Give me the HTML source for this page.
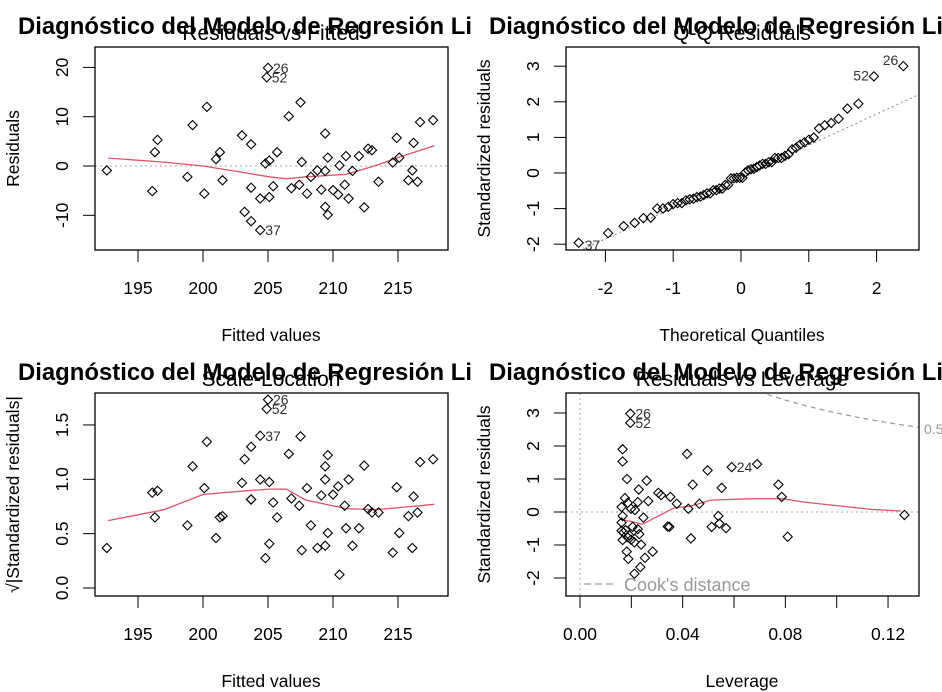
<!DOCTYPE html>
<html><head><meta charset="utf-8"><style>
html,body{margin:0;padding:0;background:#fff;}
svg{display:block;font-family:"Liberation Sans",Arial,sans-serif;}
</style></head><body>
<svg id="chart" width="942" height="692" viewBox="0 0 942 692" xmlns="http://www.w3.org/2000/svg"></svg>
<script>
// ---------- DATA ----------
const fittedValues = [192.6,196.1,196.3,196.5,198.8,199.2,200.1,200.3,201.0,201.3,201.5,203.0,203.2,203.7,203.7,203.7,204.4,204.4,204.8,204.9,205.0,205.1,205.1,205.4,205.7,206.6,206.8,207.4,207.5,207.6,208.0,208.3,208.8,209.1,209.4,209.4,209.4,209.6,209.6,210.0,210.4,210.5,210.9,211.0,211.2,211.5,212.0,212.4,212.7,213.0,213.5,214.6,214.9,215.1,215.8,216.1,216.2,216.5,216.7,217.7];
const residualValues = [-0.9,-5.1,2.8,5.3,-2.2,8.3,-5.6,12.0,1.4,2.8,-2.9,6.2,-9.3,4.4,-4.4,-11.2,-13.0,-6.6,0.5,18.0,19.9,1.1,-6.3,-4.1,2.8,10.1,-4.5,-3.8,12.9,0.8,-5.6,-2.2,-0.9,-4.8,6.6,-8.3,-1.0,1.7,-9.9,-4.9,-5.8,0.1,-3.8,2.0,-6.6,-1.0,2.0,-8.4,3.5,3.2,-3.2,0.7,5.7,1.7,-2.9,-0.9,4.7,-3.2,8.9,9.3];
const pointIds = {16:"37",19:"52",20:"26"};
const residualSigma = 6.63;
const lowessFitX = [192.7,197,200,202.8,205.1,206.4,207.9,211,213.3,215.1,217.8];
const lowessResY = [1.6,0.8,0,-1.2,-2.2,-2.6,-2.2,-1.7,0.1,1.8,4.1];
const lowessScaleY = [0.62,0.72,0.86,0.89,0.91,0.91,0.81,0.73,0.72,0.74,0.77];
const leverageValues = [0.0196,0.0196,0.0166,0.0166,0.0183,0.0175,0.0162,0.0186,0.0199,0.0214,0.0166,0.0162,0.0162,0.017,0.0166,0.0186,0.0199,0.0212,0.0182,0.0188,0.0212,0.0235,0.0253,0.0283,0.0238,0.0231,0.0225,0.0247,0.0225,0.0266,0.0229,0.026,0.0305,0.0316,0.0352,0.0377,0.0342,0.0348,0.0417,0.0422,0.0439,0.0432,0.0465,0.0497,0.0513,0.0539,0.0543,0.0552,0.0569,0.0591,0.069,0.0773,0.0786,0.0809,0.1264,0.0178,0.0192,0.0205];
const leverageStdRes = [2.98,2.70,1.90,1.53,1.0,0.42,0.15,0.28,0.10,0.06,-0.12,-0.32,-0.57,-0.62,-0.85,-0.77,-0.84,-0.92,-1.2,-1.42,-1.87,-1.67,-1.39,-1.2,-0.99,-0.67,-0.52,-0.17,0.30,0.33,0.68,0.95,0.58,0.51,0.46,0.25,-0.44,-0.45,1.76,0.10,0.83,-0.80,0.25,1.26,-0.45,-0.12,-0.35,0.73,-0.49,1.36,1.45,0.83,0.46,-0.75,-0.09,-0.55,-0.70,-0.45];
const leverageIds = {0:"26",1:"52",49:"24"};
const lowessLevX = [0.0162,0.0244,0.0368,0.0432,0.051,0.0653,0.079,0.0874,0.1134,0.125];
const lowessLevY = [-0.22,-0.37,0.13,0.18,0.36,0.40,0.40,0.30,0.08,0.03];
const fittedTicks = [195,200,205,210,215];
const residualTicks = [-10,0,10,20];
const qqXTicks = [-2,-1,0,1,2];
const qqYTicks = [-2,-1,0,1,2,3];
const scaleTicks = [0,0.5,1,1.5];
const scaleTickLabels = ["0.0","0.5","1.0","1.5"];
const levXTicks = [0,0.02,0.04,0.06,0.08,0.10,0.12];
const levXLabels = ["0.00","","0.04","","0.08","","0.12"];
const levYTicks = [-2,-1,0,1,2,3];
const mainTitle = "Diagnóstico del Modelo de Regresión Lineal";

// ---------- HELPERS ----------
const NS = "http://www.w3.org/2000/svg";
const svg = document.getElementById("chart");
function mk(tag, attrs, parent){const e=document.createElementNS(NS,tag);for(const k in attrs)e.setAttribute(k,attrs[k]);(parent||svg).appendChild(e);return e;}
const BX0=95,BX1=448,BY0=47,BY1=250;

const defs = mk("defs",{});
function qnorm(p){
  const a=[-39.69683028665376,220.9460984245205,-275.9285104469687,138.357751867269,-30.66479806614716,2.506628277459239];
  const b=[-54.47609879822406,161.5858368580409,-155.6989798598866,66.80131188771972,-13.28068155288572];
  const c=[-0.007784894002430293,-0.3223964580411365,-2.400758277161838,-2.549732539343734,4.374664141464968,2.938163982698783];
  const d=[0.007784695709041462,0.3224671290700398,2.445134137142996,3.754408661907416];
  const pl=0.02425;let q,r;
  if(p<pl){q=Math.sqrt(-2*Math.log(p));return (((((c[0]*q+c[1])*q+c[2])*q+c[3])*q+c[4])*q+c[5])/((((d[0]*q+d[1])*q+d[2])*q+d[3])*q+1);}
  if(p>1-pl){q=Math.sqrt(-2*Math.log(1-p));return -(((((c[0]*q+c[1])*q+c[2])*q+c[3])*q+c[4])*q+c[5])/((((d[0]*q+d[1])*q+d[2])*q+d[3])*q+1);}
  q=p-0.5;r=q*q;return (((((a[0]*r+a[1])*r+a[2])*r+a[3])*r+a[4])*r+a[5])*q/(((((b[0]*r+b[1])*r+b[2])*r+b[3])*r+b[4])*r+1);
}

function panel(idx, ox, oy, name, sub, xs, ys, xTicks, xLabels, yTicks, yLabels, xTitle, yTitle){
  const cp = mk("clipPath",{id:"pc"+idx},defs);
  mk("rect",{x:0,y:0,width:471,height:346},cp);
  const bc = mk("clipPath",{id:"bc"+idx},defs);
  mk("rect",{x:BX0,y:BY0,width:BX1-BX0,height:BY1-BY0},bc);
  const g = mk("g",{transform:`translate(${ox},${oy})`,"clip-path":`url(#pc${idx})`});
  
  
  const st = mk("text",{x:271,y:40,"font-size":"21","text-anchor":"middle",fill:"#000"},g);
  
  
  st.textContent = sub;
  const t = mk("text",{x:18,y:34,"font-size":"23.9","font-weight":"bold",fill:"#000"},g);
  
  
  t.textContent = mainTitle;
  const xa = mk("g",{},g);
  
  
  mk("line",{x1:xs(xTicks[0]),x2:xs(xTicks[xTicks.length-1]),y1:BY1,y2:BY1,stroke:"#000"},xa);
  xTicks.forEach((v,i)=>{
    const X=xs(v);
    mk("line",{x1:X,x2:X,y1:BY1,y2:BY1+12,stroke:"#000"},xa);
    if(xLabels[i]!==""){const tl=mk("text",{x:X,y:294,"font-size":"17.5","text-anchor":"middle",fill:"#000"},xa);
      
      
      tl.textContent=xLabels[i];}
  });
  const ya = mk("g",{},g);
  
  
  yTicks.forEach((v,i)=>{
    const Y=ys(v);
    mk("line",{x1:BX0-12,x2:BX0,y1:Y,y2:Y,stroke:"#000"},ya);
    const tl=mk("text",{x:0,y:0,"font-size":"17.5","text-anchor":"middle",fill:"#000",transform:`translate(68,${Y}) rotate(-90)`},ya);
    
    
    tl.textContent=yLabels[i];
  });
  const xt = mk("text",{x:271,y:341,"font-size":"17.5","text-anchor":"middle",fill:"#000"},g);
  
  
  xt.textContent = xTitle;
  const yt = mk("text",{x:0,y:0,"font-size":"17.5","text-anchor":"middle",fill:"#000",transform:`translate(19,${(BY0+BY1)/2}) rotate(-90)`},g);
  
  
  yt.textContent = yTitle;
  const plot = mk("g",{"clip-path":`url(#bc${idx})`},g);
  
  
  return {g, plot};
}
function box(g){const r=mk("rect",{x:BX0,y:BY0,width:BX1-BX0,height:BY1-BY0,fill:"none",stroke:"#000","stroke-width":"1.3"},g);
  
  }
function diamond(p,X,Y){const d=mk("path",{d:`M${X} ${Y-4.6}L${X+4.6} ${Y}L${X} ${Y+4.6}L${X-4.6} ${Y}Z`,fill:"none",stroke:"#000","stroke-width":"1.1"},p);
  
  }
function label(p,X,Y,txt,anchor){const t=mk("text",{x:X,y:Y,"font-size":"14",fill:"#333","text-anchor":anchor||"start"},p);
  
  
  t.textContent=txt;}
function polyline(p,xsArr,ysArr,xs,ys,name){const pts=xsArr.map((v,i)=>xs(v).toFixed(1)+","+ys(ysArr[i]).toFixed(1)).join(" ");
  const l=mk("polyline",{points:pts,fill:"none",stroke:"#DF536B","stroke-width":"1.3"},p);
  
  }
function hline(p,Y,x0,x1,dash,name){const l=mk("line",{x1:x0,x2:x1,y1:Y,y2:Y,stroke:"#aaa","stroke-dasharray":dash},p);
  
  }

const stdRes = residualValues.map(v=>v/residualSigma);

// ---------- PANEL 1 ----------
{
  const xs=v=>138+(v-195)*13.0, ys=v=>166-v*4.93;
  const {g,plot}=panel(1,0,0,"residuals-vs-fitted-panel","Residuals vs Fitted",xs,ys,fittedTicks,fittedTicks.map(String),residualTicks,residualTicks.map(String),"Fitted values","Residuals");
  hline(plot,ys(0),BX0,BX1,"2,3","zero-reference-line");
  polyline(plot,lowessFitX,lowessResY,xs,ys,"lowess-smooth-line");
  fittedValues.forEach((v,i)=>{diamond(plot,xs(v),ys(residualValues[i]));
    if(pointIds[i]) label(plot,xs(v)+5,ys(residualValues[i])+5,pointIds[i]);});
  box(g);
}
// ---------- PANEL 2 ----------
{
  const xs=v=>270+v*67.8, ys=v=>173-v*35.6;
  const {g,plot}=panel(2,471,0,"normal-qq-panel","Q-Q Residuals",xs,ys,qqXTicks,qqXTicks.map(String),qqYTicks,qqYTicks.map(String),"Theoretical Quantiles","Standardized residuals");
  const n=stdRes.length;
  const order=stdRes.map((v,i)=>i).sort((a,b)=>stdRes[a]-stdRes[b]);
  const sorted=order.map(i=>stdRes[i]);
  const theo=sorted.map((v,k)=>qnorm((k+1-0.5)/n));
  const quant=(arr,p)=>{const h=(arr.length-1)*p,lo=Math.floor(h);return arr[lo]+(h-lo)*(arr[lo+1]-arr[lo]);};
  const y1=quant(sorted,0.25),y3=quant(sorted,0.75),x1=qnorm(0.25),x3=qnorm(0.75);
  const sl=(y3-y1)/(x3-x1), ic=y1-sl*x1;
  const ql=mk("line",{x1:xs(-3),y1:ys(ic+sl*-3),x2:xs(3),y2:ys(ic+sl*3),stroke:"#888","stroke-dasharray":"2,3"},plot);
  
  
  sorted.forEach((v,k)=>{diamond(plot,xs(theo[k]),ys(v));
    const id=pointIds[order[k]];
    if(id){ if(id==="37") label(plot,xs(theo[k])+6,ys(v)+7,id);
      else label(plot,xs(theo[k])-5,ys(v)+(id==="52"?4:-1),id,"end");}
  });
  box(g);
}
// ---------- PANEL 3 ----------
{
  const xs=v=>138+(v-195)*13.0, ys=v=>242-v*108.7;
  const {g,plot}=panel(3,0,346,"scale-location-panel","Scale-Location",xs,ys,fittedTicks,fittedTicks.map(String),scaleTicks,scaleTickLabels,"Fitted values","\u221A|Standardized residuals|");
  polyline(plot,lowessFitX,lowessScaleY,xs,ys,"lowess-smooth-line");
  fittedValues.forEach((v,i)=>{const s=Math.sqrt(Math.abs(stdRes[i]));diamond(plot,xs(v),ys(s));
    if(pointIds[i]) label(plot,xs(v)+5,ys(s)+5,pointIds[i]);});
  box(g);
}
// ---------- PANEL 4 ----------
{
  const xs=v=>109+v*2567, ys=v=>166-v*33;
  const {g,plot}=panel(4,471,346,"residuals-vs-leverage-panel","Residuals vs Leverage",xs,ys,levXTicks,levXLabels,levYTicks,levYTicks.map(String),"Leverage","Standardized residuals");
  hline(plot,ys(0),BX0,BX1,"2,3","zero-reference-line");
  const vl=mk("line",{x1:xs(0),x2:xs(0),y1:BY0,y2:BY1,stroke:"#aaa","stroke-dasharray":"2,3"},plot);
  
  
  const hs=[]; for(let h=0.06;h<=0.14;h+=0.002) hs.push(h);
  const cpts=hs.map(h=>xs(h).toFixed(1)+","+ys(Math.sqrt(0.5*2*(1-h)/h)).toFixed(1)).join(" ");
  const ck=mk("polyline",{points:cpts,fill:"none",stroke:"#999","stroke-dasharray":"5,4","stroke-width":"1.2"},plot);
  
  
  polyline(plot,lowessLevX,lowessLevY,xs,ys,"lowess-smooth-line");
  leverageValues.forEach((v,i)=>{diamond(plot,xs(v),ys(leverageStdRes[i]));
    if(leverageIds[i]) label(plot,xs(v)+5,ys(leverageStdRes[i])+5,leverageIds[i]);});
  box(g);
  const cl=mk("text",{x:453,y:88,"font-size":"14",fill:"#999"},g);
  
  
  cl.textContent="0.5";
  const lg=mk("g",{},g);
  
  
  mk("line",{x1:113,x2:146,y1:238,y2:238,stroke:"#999","stroke-dasharray":"7,4","stroke-width":"1.2"},lg);
  const lt=mk("text",{x:153,y:245,"font-size":"18",fill:"#999"},lg);
  
  
  lt.textContent="Cook's distance";
}
</script>
</body></html>
